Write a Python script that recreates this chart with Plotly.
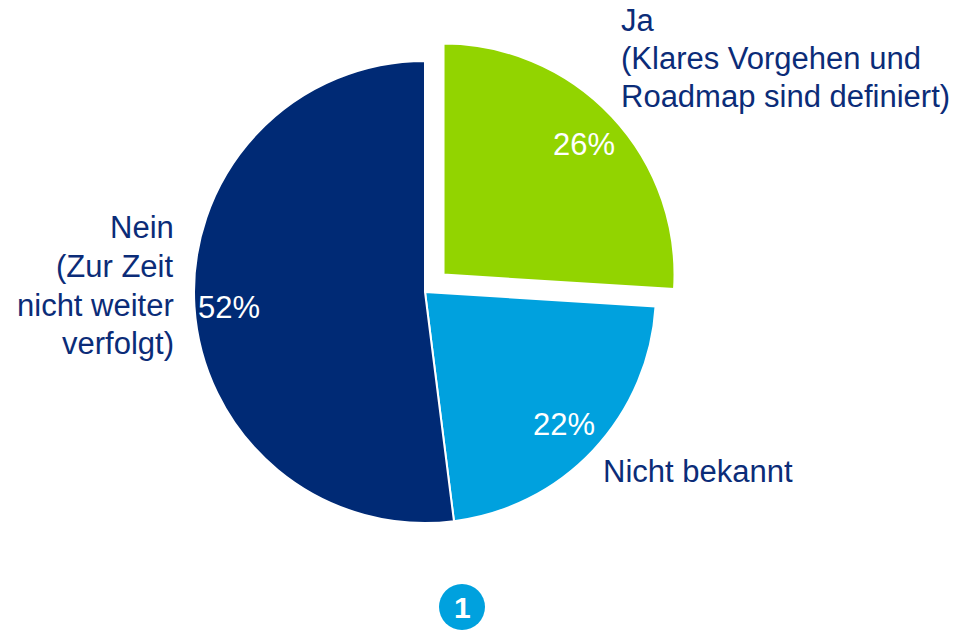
import plotly.graph_objects as go

# Data
categories = ["Ja", "Nicht bekannt", "Nein"]
label_lines = [
    ["Ja", "(Klares Vorgehen und", "Roadmap sind definiert)"],
    ["Nicht bekannt"],
    ["Nein", "(Zur Zeit", "nicht weiter", "verfolgt)"],
]
values = [26, 22, 52]
slice_colors = ["#92D400", "#00A1DE", "#002A75"]
pulls = [0.11, 0, 0]

W, H = 961, 630
TEXT_COLOR = "#0B2C78"
FONT = "Liberation Sans, Arial, sans-serif"

def px(x):
    return x / W

def py(y):
    return 1 - y / H

CX, CY, HALF = 425, 292, 256.4
fig = go.Figure(go.Pie(
    labels=categories,
    values=values,
    sort=False,
    direction="clockwise",
    rotation=0,
    pull=pulls,
    marker=dict(colors=slice_colors, line=dict(color="white", width=2)),
    textinfo="none",
    hoverinfo="label+percent",
    showlegend=False,
    domain=dict(x=[px(CX - HALF), px(CX + HALF)], y=[py(CY + HALF), py(CY - HALF)]),
))

# percentage labels (inside, white)
pct_pos = [(584, 145), (564, 424), (229, 307)]
for v, (x, y) in zip(values, pct_pos):
    fig.add_annotation(x=px(x), y=py(y), xref="paper", yref="paper", text=f"{v}%",
                       showarrow=False, xanchor="center", yanchor="middle",
                       font=dict(family=FONT, size=31, color="white"))

# category labels (outside), one annotation per line
lab_pos = [
    (619, 21, 37.5, "left"),
    (601, 471, 0, "left"),
    (176, 227, 39, "right"),
]
for lines, (x, y0, dy, xa) in zip(label_lines, lab_pos):
    for i, t in enumerate(lines):
        fig.add_annotation(x=px(x), y=py(y0 + i * dy), xref="paper", yref="paper", text=t,
                           showarrow=False, xanchor=xa, yanchor="middle", align=xa,
                           font=dict(family=FONT, size=31, color=TEXT_COLOR))

# numbered badge
fig.add_shape(type="circle", xref="paper", yref="paper",
              xsizemode="pixel", ysizemode="pixel",
              xanchor=px(462), yanchor=py(607),
              x0=-23, x1=23, y0=-23, y1=23,
              fillcolor="#00A1DE", line=dict(width=0))
fig.add_annotation(x=px(462), y=py(607), xref="paper", yref="paper", text="<b>1</b>",
                   showarrow=False, xanchor="center", yanchor="middle",
                   font=dict(family=FONT, size=30, color="white"))

fig.update_layout(
    width=W, height=H,
    margin=dict(l=0, r=0, t=0, b=0),
    paper_bgcolor="white",
    plot_bgcolor="white",
)

fig.write_html("out.html",
               config={"displayModeBar": False},
               post_script="document.body.style.margin='0px';document.body.style.overflow='hidden';")
